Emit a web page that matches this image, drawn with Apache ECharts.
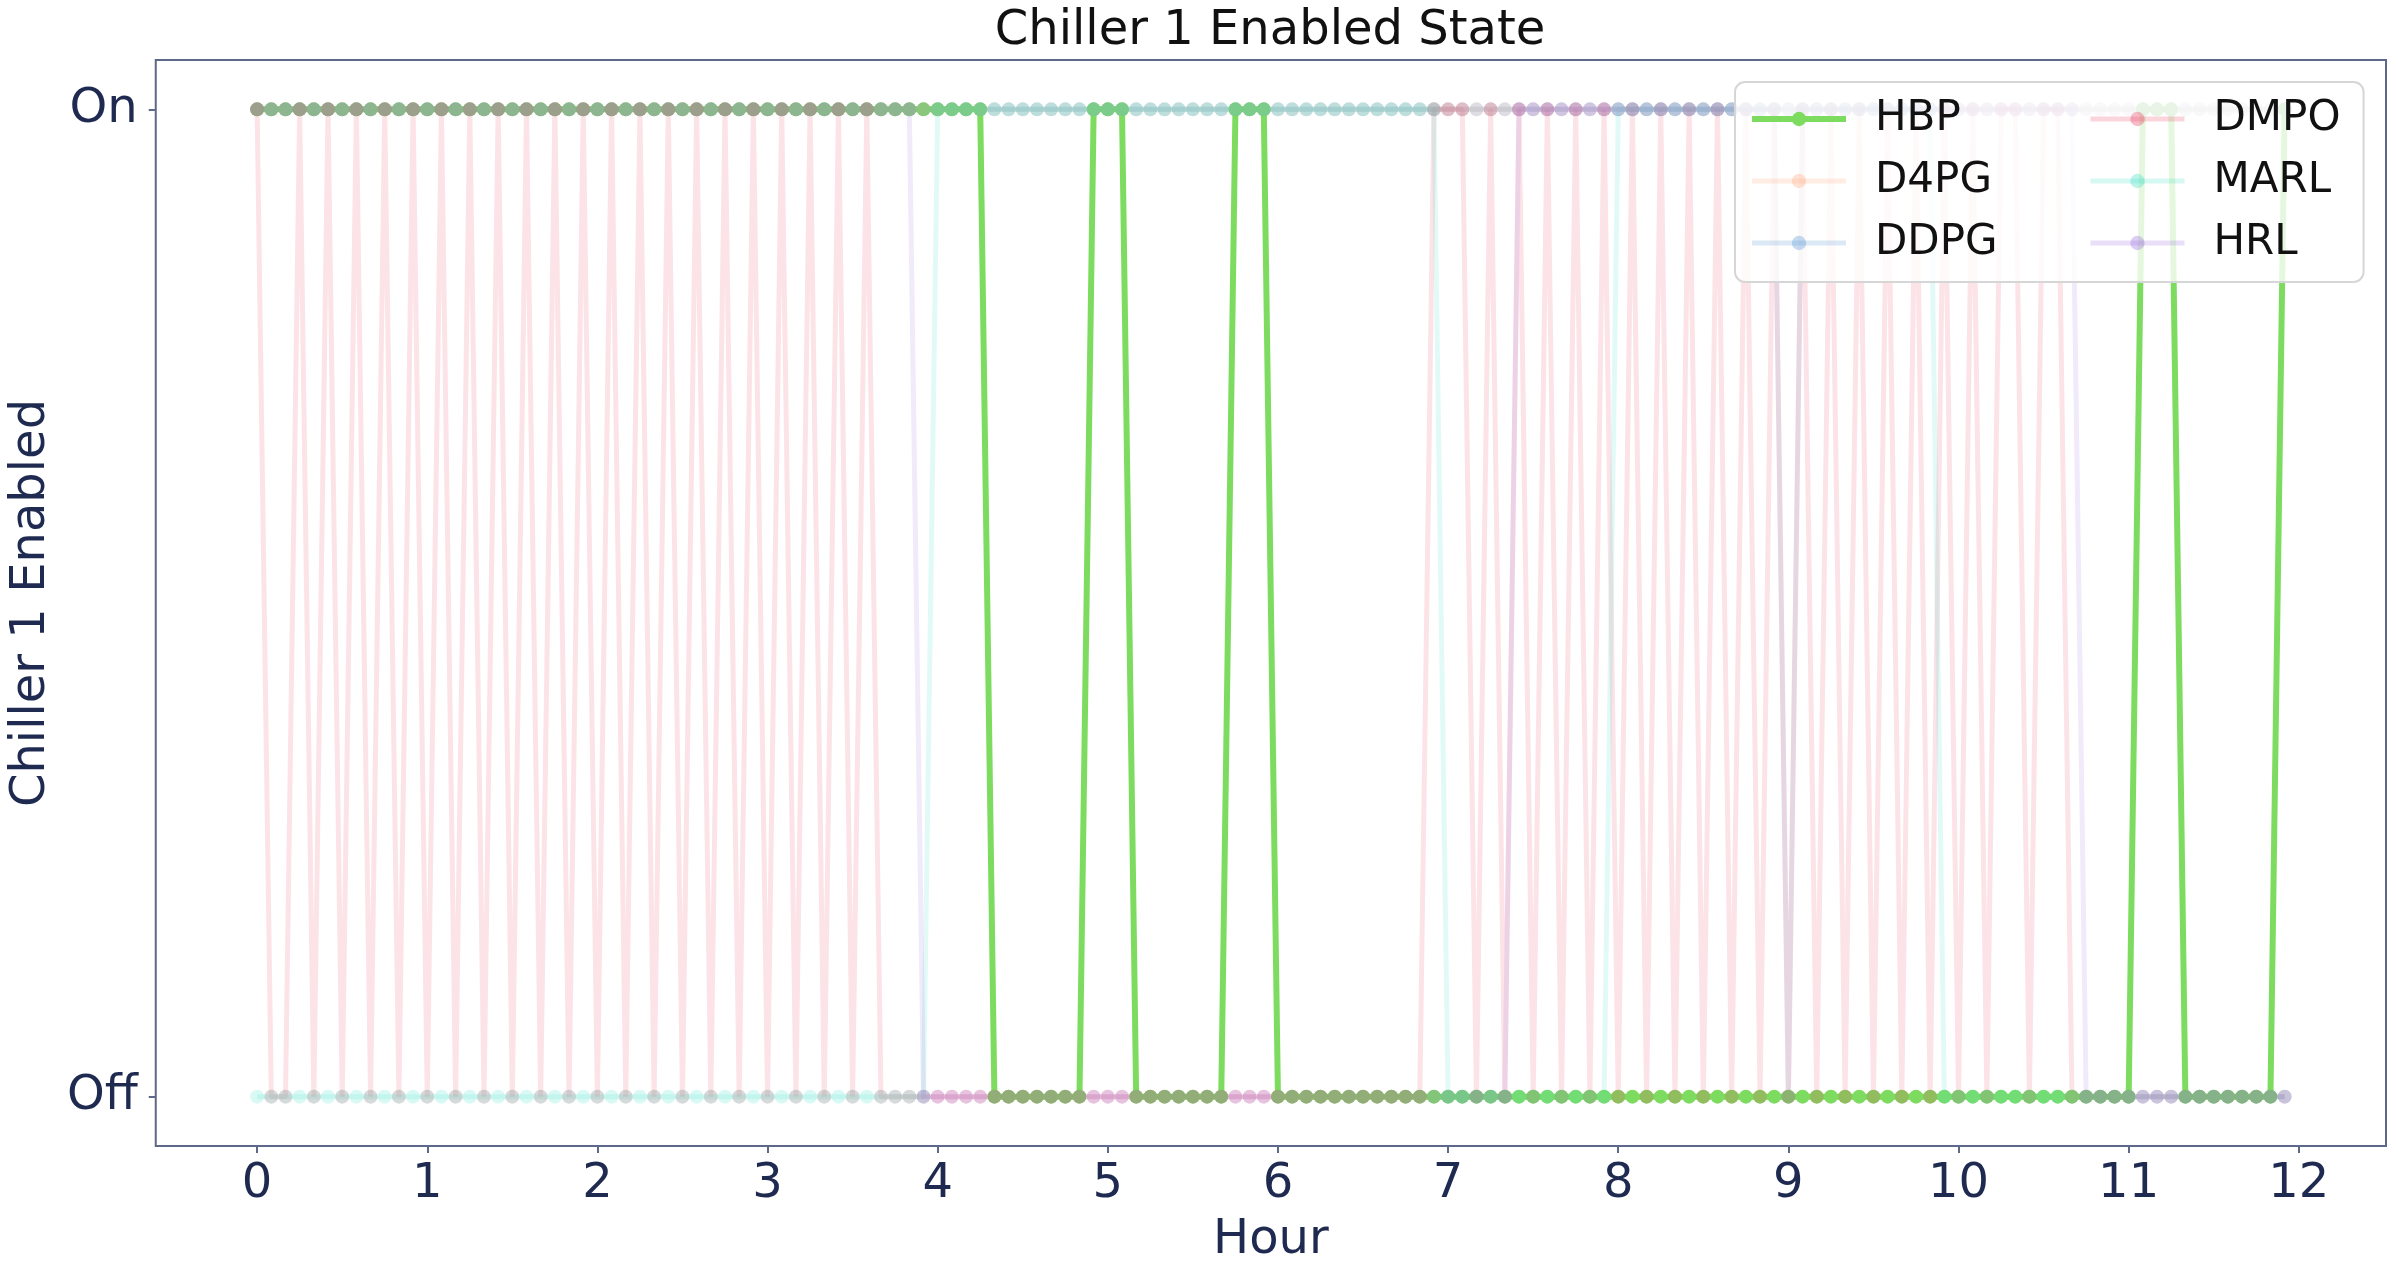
<!DOCTYPE html>
<html>
<head>
<meta charset="utf-8">
<script src="https://cdn.jsdelivr.net/npm/echarts@6/dist/echarts.min.js"></script>
<style>
html,body{margin:0;padding:0;background:#ffffff;}
#chart{width:2398px;height:1270px;}
</style>
</head>
<body>
<div id="chart"></div>
<script>
// ---------- data ----------
const chartTitle = 'Chiller 1 Enabled State';
const xAxisName = 'Hour';
const yAxisName = 'Chiller 1 Enabled';
const xTickValues = [0, 1, 2, 3, 4, 5, 6, 7, 8, 9, 10, 11, 12];
const yTickValues = [0, 1];
const yTickLabels = ['Off', 'On'];
// sampling grid: one point every 5 minutes over 12 hours (144 points)
const hours = Array.from({length: 144}, (_, i) => i / 12);

// each row = one hour (12 points of 5 minutes); 1 = On, 0 = Off
const HBP = [
  1,1,1,1,1,1,1,1,1,1,1,1,
  1,1,1,1,1,1,1,1,1,1,1,1,
  1,1,1,1,1,1,1,1,1,1,1,1,
  1,1,1,1,1,1,1,1,1,1,1,1,
  1,1,1,1,0,0,0,0,0,0,0,1,
  1,1,0,0,0,0,0,0,0,1,1,1,
  0,0,0,0,0,0,0,0,0,0,0,0,
  0,0,0,0,0,0,0,0,0,0,0,0,
  0,0,0,0,0,0,0,0,0,0,0,0,
  0,0,0,0,0,0,0,0,0,0,0,0,
  0,0,0,0,0,0,0,0,0,0,0,0,
  0,1,1,1,0,0,0,0,0,0,0,1
];
const D4PG = [
  1,1,1,1,1,1,1,1,1,1,1,1,
  1,1,1,1,1,1,1,1,1,1,1,1,
  1,1,1,1,1,1,1,1,1,1,1,1,
  1,1,1,1,1,1,1,1,1,1,1,1,
  1,1,1,1,1,1,1,1,1,1,1,1,
  1,1,1,1,1,1,1,1,1,1,1,1,
  1,1,1,1,1,1,1,1,1,1,1,1,
  1,1,1,1,1,1,1,1,1,1,1,1,
  1,1,1,1,1,1,1,1,1,1,1,1,
  1,1,1,1,1,1,1,1,1,1,1,1,
  1,1,1,1,1,1,1,1,1,1,1,1,
  1,1,1,1,1,1,1,1,1,1,1,1
];
const DDPG = [
  1,1,1,1,1,1,1,1,1,1,1,1,
  1,1,1,1,1,1,1,1,1,1,1,1,
  1,1,1,1,1,1,1,1,1,1,1,1,
  1,1,1,1,1,1,1,1,1,1,1,1,
  1,1,1,1,1,1,1,1,1,1,1,1,
  1,1,1,1,1,1,1,1,1,1,1,1,
  1,1,1,1,1,1,1,1,1,1,1,1,
  1,1,1,1,1,1,1,1,1,1,1,1,
  1,1,1,1,1,1,1,1,1,1,1,1,
  0,1,1,1,1,1,1,1,1,1,1,1,
  1,1,1,1,1,1,1,1,1,1,1,1,
  1,1,1,1,1,1,1,1,1,1,1,1
];
const DMPO = [
  1,0,0,1,0,1,0,1,0,1,0,1,
  0,1,0,1,0,1,0,1,0,1,0,1,
  0,1,0,1,0,1,0,1,0,1,0,1,
  0,1,0,1,0,1,0,1,0,0,0,0,
  0,0,0,0,0,0,0,0,0,0,0,0,
  0,0,0,0,0,0,0,0,0,0,0,0,
  0,0,0,0,0,0,0,0,0,0,0,1,
  1,1,0,1,0,1,0,1,0,1,0,1,
  0,1,0,1,0,1,0,1,0,1,0,1,
  0,1,0,1,0,1,0,1,0,1,0,1,
  0,1,0,1,1,0,1,1,0,0,0,0,
  0,0,0,0,0,0,0,0,0,0,0,0
];
const MARL = [
  0,0,0,0,0,0,0,0,0,0,0,0,
  0,0,0,0,0,0,0,0,0,0,0,0,
  0,0,0,0,0,0,0,0,0,0,0,0,
  0,0,0,0,0,0,0,0,0,0,0,0,
  1,1,1,1,1,1,1,1,1,1,1,1,
  1,1,1,1,1,1,1,1,1,1,1,1,
  1,1,1,1,1,1,1,1,1,1,1,1,
  0,0,0,0,0,0,0,0,0,0,0,0,
  1,1,1,1,1,1,1,1,1,1,1,1,
  1,1,1,1,1,1,1,1,1,1,1,0,
  0,0,0,0,0,0,0,0,0,0,0,0,
  0,0,0,0,0,0,0,0,0,0,0,0
];
const HRL = [
  1,1,1,1,1,1,1,1,1,1,1,1,
  1,1,1,1,1,1,1,1,1,1,1,1,
  1,1,1,1,1,1,1,1,1,1,1,1,
  1,1,1,1,1,1,1,1,1,1,1,0,
  0,0,0,0,0,0,0,0,0,0,0,0,
  0,0,0,0,0,0,0,0,0,0,0,0,
  0,0,0,0,0,0,0,0,0,0,0,0,
  0,0,0,0,0,1,1,1,1,1,1,1,
  1,1,1,1,1,1,1,1,1,1,1,1,
  1,1,1,1,1,1,1,1,1,1,1,1,
  1,1,1,1,1,1,1,1,1,0,0,0,
  0,0,0,0,0,0,0,0,0,0,0,0
];

const seriesNames = ['HBP', 'D4PG', 'DDPG', 'DMPO', 'MARL', 'HRL'];
const seriesValues = [HBP, D4PG, DDPG, DMPO, MARL, HRL];
const seriesColors = ['#7ddc5f', '#ffab80', '#5a9bd5', '#e8405e', '#3fe0c6', '#9a6fe0'];

// ---------- chart ----------
const axisColor = '#5e6888';
const textColor = '#1f2a50';
const FONT = 'DejaVu Sans';

const series = seriesNames.map((name, k) => {
  const main = k === 0;
  return {
    name: name,
    type: 'line',
    data: hours.map((h, i) => [h, seriesValues[k][i]]),
    symbol: 'circle',
    symbolSize: 14,
    showAllSymbol: true,
    animation: false,
    color: seriesColors[k],
    lineStyle: {width: main ? 6 : 5, opacity: main ? 1 : 0.15, color: seriesColors[k]},
    itemStyle: {opacity: main ? 1 : 0.2, color: seriesColors[k]},
    emphasis: {disabled: true},
    z: 2
  };
});

function legendItem(name) {
  const k = seriesNames.indexOf(name);
  const main = k === 0;
  return {
    name: name,
    itemStyle: {color: seriesColors[k], opacity: main ? 1 : 0.35},
    lineStyle: {color: seriesColors[k], width: main ? 6 : 5, opacity: main ? 1 : 0.22}
  };
}

const legendCommon = {
  orient: 'vertical',
  itemWidth: 94,
  itemHeight: 18,
  itemGap: 18,
  textStyle: {fontFamily: FONT, fontSize: 42, color: '#111111', lineHeight: 44, padding: [0, 0, 0, 24]},
  selectedMode: false
};

const option = {
  backgroundColor: '#ffffff',
  animation: false,
  title: {
    text: chartTitle,
    left: 1270,
    top: 8,
    padding: 0,
    textAlign: 'center',
    textStyle: {fontFamily: FONT, fontSize: 48, fontWeight: 'normal', color: '#111111'}
  },
  grid: {
    left: 155, right: 12, top: 60, bottom: 123,
    show: true, borderColor: axisColor, borderWidth: 2, backgroundColor: 'transparent',
    containLabel: false
  },
  legend: [
    Object.assign({}, legendCommon, {
      data: ['HBP', 'D4PG', 'DDPG'].map(legendItem),
      left: 1735, top: 82,
      padding: [15, 366, 17, 14],
      backgroundColor: 'rgba(255,255,255,0.8)',
      borderColor: '#d6d6d6', borderWidth: 2, borderRadius: 10
    }),
    Object.assign({}, legendCommon, {
      data: ['DMPO', 'MARL', 'HRL'].map(legendItem),
      left: 2088, top: 97,
      padding: 0
    })
  ],
  xAxis: {
    type: 'value',
    min: -0.5958, max: 12.5125,
    name: xAxisName,
    nameLocation: 'middle',
    nameGap: 71,
    nameTextStyle: {fontFamily: FONT, fontSize: 48, color: textColor},
    axisLine: {show: false, onZero: false},
    splitLine: {show: false},
    axisTick: {show: true, length: 7, lineStyle: {color: axisColor, width: 2}, customValues: xTickValues},
    axisLabel: {fontFamily: FONT, fontSize: 48, color: textColor, margin: 15, customValues: xTickValues,
      formatter: v => String(v)}
  },
  yAxis: {
    type: 'value',
    min: -0.05, max: 1.05,
    name: yAxisName,
    nameLocation: 'middle',
    nameGap: 92,
    nameTextStyle: {fontFamily: FONT, fontSize: 48, color: textColor},
    axisLine: {show: false, onZero: false},
    splitLine: {show: false},
    axisTick: {show: true, length: 7, lineStyle: {color: axisColor, width: 2}, customValues: yTickValues},
    axisLabel: {fontFamily: FONT, fontSize: 48, color: textColor, margin: 18, customValues: yTickValues,
      formatter: v => yTickLabels[yTickValues.indexOf(Math.round(v))] || ''}
  },
  series: series
};

const chart = echarts.init(document.getElementById('chart'), null, {renderer: 'canvas'});
chart.setOption(option);
</script>
</body>
</html>
